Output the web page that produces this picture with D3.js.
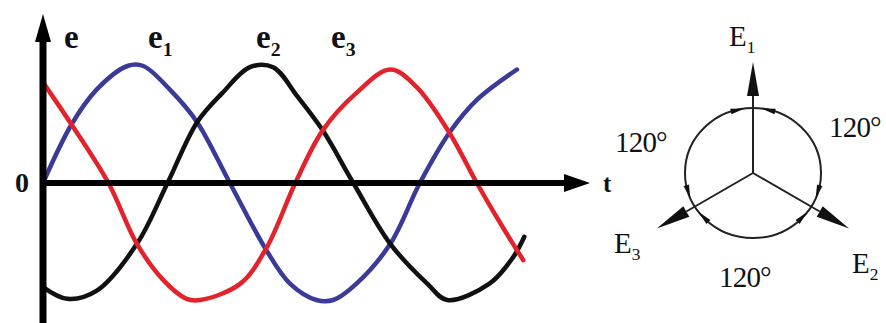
<!DOCTYPE html>
<html>
<head>
<meta charset="utf-8">
<script src="https://cdn.jsdelivr.net/npm/d3@7"></script>
<style>
  html, body { margin: 0; padding: 0; background: #fff; }
  svg { display: block; }
  .lbl { font-family: "Liberation Serif", "DejaVu Serif", serif; fill: #111; }
</style>
</head>
<body>
<div id="chart"></div>
<script>
// phase (degrees) and relative emf
const e1Points = [[0,0],[27,0.5],[51,0.8],[80,1],[95,1],[120,0.8],[146,0.52],[177,0],[212,-0.58],[234,-0.86],[259,-1],[275,-1],[297,-0.86],[329,-0.52],[357,0],[385,0.43],[411,0.71],[449,0.97]];
const e2Points = [[0,-0.89],[23,-0.99],[51,-0.92],[89,-0.52],[118,0],[146,0.52],[170,0.77],[196,0.99],[218,0.99],[241,0.74],[265,0.45],[294,0],[329,-0.52],[364,-0.86],[383,-1],[423,-0.86],[445,-0.64],[456,-0.46]];
const e3Points = [[0,0.86],[27,0.5],[62,0],[89,-0.52],[114,-0.83],[136,-0.99],[149,-1],[187,-0.86],[212,-0.55],[239,0],[265,0.45],[297,0.77],[329,0.97],[354,0.82],[385,0.43],[411,0],[433,-0.34],[455,-0.66]];

const curveNames = ["e1", "e2", "e3"];
const curveColors = ["#3a3a98", "#111111", "#e3232b"];

// phasor angles (deg, counter-clockwise from +x)
const phasorNames = ["1", "2", "3"];
const phasorAngles = [90, -30, 210];
const angleLabel = "120\u00B0";

const W = 886, H = 323;
const svg = d3.select("#chart").append("svg")
  .attr("width", W).attr("height", H)
  .style("background", "#fff");

const x = d3.scaleLinear().domain([0, 360]).range([43, 423]);
const y = d3.scaleLinear().domain([-1, 1]).range([300, 66]);

// curves
const line = d3.line()
  .x(d => x(d[0]))
  .y(d => y(d[1]))
  .curve(d3.curveCatmullRom.alpha(0.5));

[e1Points, e2Points, e3Points].forEach((pts, i) => {
  svg.append("path")
    .attr("d", line(pts))
    .attr("fill", "none")
    .attr("stroke", curveColors[i])
    .attr("stroke-width", 4.5)
    .attr("stroke-linejoin", "round")
    .attr("stroke-linecap", "round");
});

// axes
const x0 = x(0), y0 = y(0);
const axisEnd = 590;
svg.append("line")
  .attr("x1", x0).attr("x2", x0)
  .attr("y1", H).attr("y2", 36)
  .attr("stroke", "#000").attr("stroke-width", 7);
svg.append("path")
  .attr("d", `M${x0},14 L${x0 + 8},42 L${x0 - 8},42 Z`)
  .attr("fill", "#000");

svg.append("line")
  .attr("x1", x0 - 3).attr("x2", axisEnd - 20)
  .attr("y1", y0).attr("y2", y0)
  .attr("stroke", "#000").attr("stroke-width", 6);
svg.append("path")
  .attr("d", `M${axisEnd},${y0} L${axisEnd - 26},${y0 - 9} L${axisEnd - 26},${y0 + 9} Z`)
  .attr("fill", "#000");

// "0" on the y axis
const yAxis = d3.axisLeft(y).tickValues([0]).tickSize(0).tickPadding(14).tickFormat(d3.format("d"));
const ga = svg.append("g").attr("transform", `translate(${x0},0)`).call(yAxis);
ga.select(".domain").remove();
ga.selectAll("text")
  .attr("class", "lbl")
  .style("font-size", "28px").style("font-weight", "bold")
  .attr("fill", "#111");

svg.append("text").attr("class", "lbl")
  .attr("x", 603).attr("y", 192)
  .style("font-size", "25px").style("font-weight", "bold")
  .text("t");

// curve labels
function subLabel(g, px, py, main, sub, size, weight) {
  const t = g.append("text").attr("class", "lbl")
    .attr("x", px).attr("y", py)
    .style("font-size", size + "px").style("font-weight", weight);
  t.append("tspan").text(main);
  if (sub) {
    t.append("tspan").attr("dy", size * 0.24).style("font-size", (size * 0.6) + "px").text(sub);
  }
}
subLabel(svg, 64, 48, "e", null, 33, "bold");
const eLabelX = [148, 256, 331];
curveNames.forEach((n, i) => subLabel(svg, eLabelX[i], 48, "e", n.slice(1), 33, "bold"));

// phasor diagram
const cx = 753, cy = 173;
const r = d3.scaleLinear().domain([0, 1]).range([0, 111]);
const ring = svg.append("g");
ring.append("ellipse")
  .attr("cx", cx).attr("cy", cy).attr("rx", 68).attr("ry", 65)
  .attr("fill", "none").attr("stroke", "#222").attr("stroke-width", 2);

const rad = a => a * Math.PI / 180;
const pt = (a, len) => [cx + len * Math.cos(rad(a)), cy - len * Math.sin(rad(a))];

phasorAngles.forEach(a => {
  const tip = pt(a, r(1));
  const base = pt(a, r(1) - 34);
  ring.append("line")
    .attr("x1", cx).attr("y1", cy)
    .attr("x2", base[0]).attr("y2", base[1])
    .attr("stroke", "#222").attr("stroke-width", 2);
  const nx = -Math.sin(rad(a)) * 6, ny = -Math.cos(rad(a)) * 6;
  ring.append("path")
    .attr("d", `M${tip[0]},${tip[1]} L${base[0] + nx},${base[1] + ny} L${base[0] - nx},${base[1] - ny} Z`)
    .attr("fill", "#111");
  // small arc arrowheads pointing at the vector
  [1, -1].forEach(s => {
    const ta = a + s * 7, ba = a + s * 19;
    const ex = 68, ey = 65;
    const tp = [cx + ex * Math.cos(rad(ta)), cy - ey * Math.sin(rad(ta))];
    const bp = [cx + ex * Math.cos(rad(ba)), cy - ey * Math.sin(rad(ba))];
    const dx = tp[0] - bp[0], dy = tp[1] - bp[1];
    const L = Math.hypot(dx, dy);
    const ox = -dy / L * 2.8, oy = dx / L * 2.8;
    ring.append("path")
      .attr("d", `M${tp[0]},${tp[1]} L${bp[0] + ox},${bp[1] + oy} L${bp[0] - ox},${bp[1] - oy} Z`)
      .attr("fill", "#111");
  });
});

// phasor labels
const phasorLabelPos = [[729, 46], [852, 273], [614, 253]];
phasorNames.forEach((n, i) => subLabel(svg, phasorLabelPos[i][0], phasorLabelPos[i][1], "E", n, 29, "normal"));

const angleLabelPos = [[615, 152], [829, 137], [719, 287]];
angleLabelPos.forEach(p => {
  svg.append("text").attr("class", "lbl")
    .attr("x", p[0]).attr("y", p[1])
    .style("font-size", "29px")
    .style("letter-spacing", "-0.8px")
    .text(angleLabel);
});
</script>
</body>
</html>
